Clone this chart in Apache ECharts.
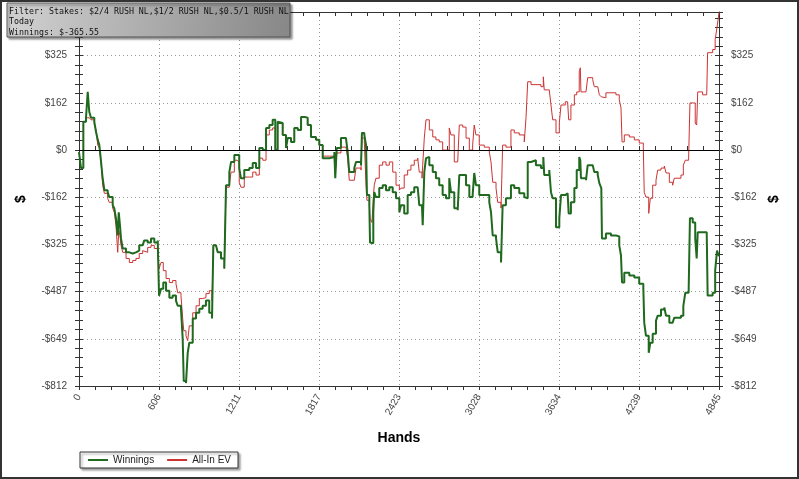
<!DOCTYPE html>
<html><head><meta charset="utf-8">
<script src="https://cdn.jsdelivr.net/npm/echarts@6/dist/echarts.min.js"></script>
<style>html,body{margin:0;padding:0;background:#fff}#c{width:799px;height:479px}</style>
</head><body><div id="c"></div>
<script>
const hands = [0,15,33,53,66,78,91,116,129,142,154,167,179,192,217,229,255,267,280,293,301,310,318,331,356,381,407,431,456,482,494,520,545,570,596,606,621,638,659,684,709,734,747,772,785,793,810,823,835,861,886,911,936,961,986,1007,1017,1037,1050,1075,1100,1113,1138,1151,1176,1196,1213,1226,1251,1289,1315,1340,1365,1391,1416,1441,1466,1486,1504,1516,1542,1567,1580,1605,1630,1656,1681,1706,1731,1756,1794,1819,1845,1870,1895,1933,1940,1951,1983,2021,2034,2046,2084,2097,2135,2142,2160,2173,2180,2198,2203,2218,2228,2235,2248,2273,2299,2324,2349,2375,2400,2425,2438,2462,2488,2513,2538,2564,2576,2597,2602,2614,2627,2640,2652,2678,2702,2727,2753,2778,2803,2816,2841,2867,2879,2905,2930,2955,2980,2992,3005,3030,3068,3106,3119,3132,3157,3170,3195,3207,3232,3270,3295,3333,3371,3384,3397,3422,3459,3497,3515,3522,3560,3573,3586,3611,3636,3649,3681,3699,3707,3724,3750,3768,3787,3795,3800,3838,3851,3889,3901,3927,3939,3954,3959,3989,4027,4065,4090,4103,4111,4128,4166,4204,4241,4272,4279,4292,4313,4325,4343,4368,4381,4406,4431,4444,4469,4494,4506,4557,4575,4590,4615,4625,4646,4665,4676,4684,4721,4752,4759,4797,4816,4830,4845];
const winnings = [-7,-62,97,111,200,131,111,97,62,35,17,-41,-97,-138,-145,-162,-190,-200,-235,-294,-214,-259,-304,-339,-352,-356,-352,-346,-328,-328,-311,-318,-304,-318,-311,-501,-477,-456,-484,-508,-501,-518,-536,-546,-650,-795,-802,-698,-663,-580,-560,-546,-536,-518,-560,-580,-328,-332,-352,-373,-408,-121,-76,-41,-17,-17,-62,-97,-69,-62,-45,-62,7,0,76,86,104,0,97,93,52,7,41,28,76,69,114,111,86,45,35,17,-28,-28,-24,-7,-97,7,41,41,-7,-76,-62,-41,-52,59,52,17,-155,-190,-318,-321,-214,-145,-162,-131,-121,-138,-128,-145,-166,-214,-190,-218,-155,-145,-128,-131,-190,-200,-259,-76,-28,-24,-52,-76,-97,-121,-155,-166,-97,-145,-200,-207,-86,-86,-121,-162,-155,-79,-121,-155,-155,-180,-214,-294,-304,-352,-387,-190,-166,-121,-131,-149,-162,-166,-41,-35,-52,-62,-24,-86,-69,-145,-166,-266,-235,-155,-149,-145,-218,-180,-131,-69,-24,-35,-97,-104,-52,-52,-76,-86,-114,-131,-304,-287,-294,-297,-328,-363,-456,-422,-432,-439,-460,-473,-594,-639,-698,-663,-632,-587,-570,-549,-542,-570,-594,-598,-577,-570,-536,-491,-491,-235,-249,-304,-373,-283,-283,-283,-501,-491,-415,-346,-365.55];
const allInEV = [-7,-62,97,111,111,111,104,86,69,17,7,-41,-121,-149,-166,-180,-200,-214,-259,-352,-276,-294,-328,-352,-373,-387,-380,-373,-356,-346,-352,-335,-328,-339,-352,-408,-387,-415,-442,-456,-449,-460,-491,-501,-580,-622,-639,-656,-605,-560,-536,-511,-508,-494,-484,-518,-328,-332,-352,-373,-408,-128,-121,-76,-35,-41,-111,-128,-93,-93,-76,-86,-28,-35,52,69,76,0,97,93,52,7,41,28,76,69,114,111,86,45,35,17,-21,-21,-21,-35,-86,-10,10,7,-28,-104,-104,-62,-69,41,28,-121,-173,-190,-235,-249,-166,-121,-97,-52,-41,-52,-41,-76,-121,-138,-131,-86,-69,-52,-35,-28,-76,-97,-52,41,104,104,69,45,35,28,0,0,76,52,-41,-41,86,79,41,0,17,86,52,17,10,-7,-41,-111,-131,-180,-200,17,10,69,59,52,28,111,235,225,225,218,252,207,207,155,104,59,93,155,166,166,104,155,190,200,269,283,200,197,249,242,218,214,190,183,180,197,197,190,173,145,28,52,45,35,24,10,-145,-162,-218,-166,-121,-104,-69,-62,-55,-79,-111,-121,-97,-86,-52,-35,-28,162,162,93,86,200,190,190,335,346,380,422,473];
const xTickLabels = ['0','606','1211','1817','2423','3028','3634','4239','4845'];
const yTickLabels = ['-$812','-$649','-$487','-$325','-$162','$0','$162','$325'];
const filterLines = ['Filter: Stakes: $2/4 RUSH NL,$1/2 RUSH NL,$0.5/1 RUSH NL','Today','Winnings: $-365.55'];
const seriesNames = ['Winnings','All-In EV'];

const X_MIN = 0, X_MAX = 4845, X_INT = 605.625;
const Y_MIN = -812, Y_MAX = 475, Y_INT = 162.4;

const chart = echarts.init(document.getElementById('c'));
const axisCol = '#333';
const gridRect = {left:79, right:80, top:12, bottom:93, containLabel:false};
const labelFont = {fontSize:10, color:'#444', fontFamily:'Liberation Sans'};
const nameFont = {fontSize:14, fontWeight:'bold', color:'#000', fontFamily:'Liberation Sans'};
const dotted = {show:true, lineStyle:{color:'#9a9a9a', type:[1,3], width:1}};

function xFmt(v){ const i = Math.round((v - X_MIN)/X_INT); return xTickLabels[i] !== undefined ? xTickLabels[i] : ''; }
function yFmt(v){ const i = Math.round((v - Y_MIN)/Y_INT); const d = Math.abs(v - (Y_MIN + i*Y_INT)); return (d < 1 && yTickLabels[i] !== undefined) ? yTickLabels[i] : ''; }

function xAx(extra){ return Object.assign({type:'value', min:X_MIN, max:X_MAX, interval:X_INT,
  axisLine:{show:true, onZero:false, lineStyle:{color:axisCol}},
  axisTick:{show:true, length:4, lineStyle:{color:axisCol}},
  minorTick:{show:true, splitNumber:5, length:4, lineStyle:{color:axisCol}},
  axisLabel:{show:false}, splitLine:{show:false}}, extra); }
function yAx(extra){ return Object.assign({type:'value', min:Y_MIN, max:Y_MAX, interval:Y_INT,
  axisLine:{show:true, onZero:false, lineStyle:{color:axisCol}},
  axisTick:{show:true, length:4, lineStyle:{color:axisCol}},
  minorTick:{show:true, splitNumber:5, length:4, lineStyle:{color:axisCol}},
  axisLabel:{show:false}, splitLine:{show:false}}, extra); }

const option = {
  backgroundColor:'#fff',
  animation:false,
  grid:[Object.assign({}, gridRect), Object.assign({}, gridRect)],
  xAxis:[
    xAx({gridIndex:0, position:'bottom',
      axisLabel:Object.assign({show:true, rotate:60, margin:9, formatter:xFmt, showMinLabel:true, showMaxLabel:true}, labelFont),
      splitLine:dotted,
      name:'Hands', nameLocation:'middle', nameGap:45, nameTextStyle:nameFont}),
    xAx({gridIndex:0, position:'top', axisTick:{show:true, inside:true, length:4, lineStyle:{color:axisCol}}}),
    xAx({gridIndex:1, position:'bottom', axisLine:{show:false}, axisTick:{show:true, inside:true, length:4, lineStyle:{color:axisCol}}})
  ],
  yAxis:[
    yAx({gridIndex:0, position:'left',
      axisLabel:Object.assign({show:true, margin:12, formatter:yFmt, showMaxLabel:false}, labelFont),
      splitLine:dotted,
      name:'$', nameLocation:'middle', nameGap:51, nameTextStyle:nameFont}),
    yAx({gridIndex:0, position:'right',
      axisLabel:Object.assign({show:true, margin:12, formatter:yFmt, showMaxLabel:false}, labelFont),
      name:'$', nameLocation:'middle', nameGap:48, nameTextStyle:nameFont}),
    yAx({gridIndex:1, position:'left', axisLine:{show:false}, axisTick:{show:true, inside:true, length:4, lineStyle:{color:axisCol}}}),
    yAx({gridIndex:1, position:'right', axisLine:{show:false}, axisTick:{show:true, inside:true, length:4, lineStyle:{color:axisCol}}})
  ],
  legend:{
    data:seriesNames, left:80, top:452, orient:'horizontal',
    backgroundColor:'#fff', borderColor:'#333', borderWidth:1,
    padding:[3,7,3,7], itemGap:12, itemWidth:20, itemHeight:8,
    itemStyle:{opacity:0},
    shadowColor:'rgba(0,0,0,0.35)', shadowOffsetX:2, shadowOffsetY:2, shadowBlur:2,
    textStyle:{fontSize:10, color:'#222', fontFamily:'Liberation Sans'}
  },
  series:[
    {name:seriesNames[1], type:'line', xAxisIndex:0, yAxisIndex:0, step:'end', symbol:'none', showSymbol:false,
      data:hands.map((h,i)=>[h, allInEV[i]]),
      lineStyle:{color:'#cc3333', width:1}, itemStyle:{color:'#cc3333'},
      markLine:{silent:true, symbol:'none', label:{show:false}, lineStyle:{color:'#000', type:'solid', width:1}, data:[{yAxis:0}]}
    },
    {name:seriesNames[0], type:'line', xAxisIndex:0, yAxisIndex:0, step:'end', symbol:'none', showSymbol:false,
      data:hands.map((h,i)=>[h, winnings[i]]),
      lineStyle:{color:'#1f6a1f', width:2}, itemStyle:{color:'#1f6a1f'}
    }
  ],
  graphic:[
    {type:'rect', z:100, zlevel:1, shape:{x:1, y:1, width:797, height:477}, style:{fill:'none', stroke:'#333', lineWidth:2}},
    {type:'rect', z:100, zlevel:1, shape:{x:7, y:3, width:283, height:34},
      style:{fill:{type:'linear', x:0, y:0, x2:1, y2:1, colorStops:[{offset:0, color:'#d2d2d2'},{offset:1, color:'#878787'}]},
        stroke:'#555', lineWidth:1, shadowBlur:2, shadowOffsetX:2, shadowOffsetY:2, shadowColor:'rgba(0,0,0,0.4)'}},
    {type:'text', z:101, zlevel:1, x:9, y:6, style:{text:filterLines.join('\n'), fontSize:8.3, fontFamily:'DejaVu Sans Mono', fill:'#111', lineHeight:10.7}}
  ]
};
chart.setOption(option);
</script>
</body></html>
